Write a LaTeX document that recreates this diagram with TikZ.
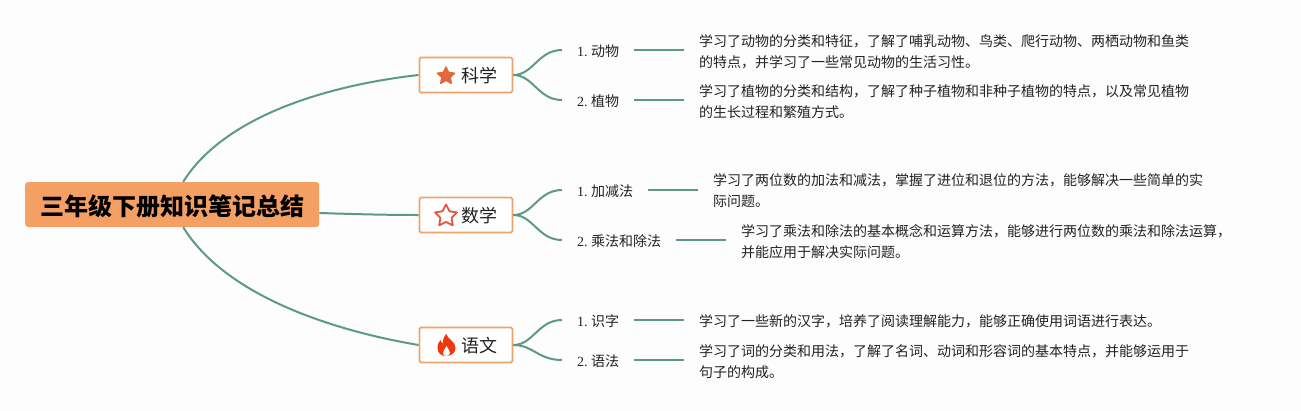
\documentclass[tikz,border=0pt]{standalone}
\usepackage{fontspec}
\usetikzlibrary{shapes.geometric,calc}
\setmainfont{Noto Sans CJK SC}
\newfontfamily\latf{Liberation Serif}
\definecolor{bgc}{HTML}{FDFDFD}
\definecolor{branch}{HTML}{5B9A85}
\definecolor{mainc}{HTML}{F4A064}
\definecolor{topicc}{HTML}{EFA36C}
\definecolor{starc}{HTML}{E0683A}
\definecolor{stard}{HTML}{E2553F}
\definecolor{flame}{HTML}{F2370F}
\definecolor{inkc}{HTML}{222222}
\tikzset{
  mainbox/.style={fill=mainc,rounded corners=3pt,minimum width=294pt,minimum height=45pt,inner sep=0pt,text height=24pt,text depth=1.4pt,font=\fontsize{24}{28}\selectfont\bfseries},
  topic/.style={draw=topicc,line width=1.8pt,fill=white,rounded corners=1.5pt,minimum width=93pt,minimum height=35pt,inner sep=0pt,text height=17pt,text depth=1.7pt,text=inkc,font=\fontsize{18}{22}\selectfont},
  sub/.style={inner xsep=15pt,inner ysep=2pt,text height=14pt,text depth=0.8pt,text=inkc,font=\fontsize{14}{18}\selectfont},
  desc/.style={inner xsep=15pt,inner ysep=0pt,align=left,text=inkc,font=\fontsize{14}{21}\selectfont},
  trunk/.style={draw=branch,line width=2pt},
  icon/.style={star,star points=5,inner sep=0pt,line join=round}
}
\newcommand{\nm}[1]{{\latf #1.\ }}
\begin{document}
\begin{tikzpicture}[x=1pt,y=-1pt]
\useasboundingbox[fill=bgc] (0,0) rectangle (1301,410);
\node[mainbox,anchor=west] (main) at (25,204.5) {三年级下册知识笔记总结};
\node[topic,anchor=west] (t1) at (418.5,75) {\hspace{28pt}科学};
\node[topic,anchor=west] (t2) at (418.5,215) {\hspace{28pt}数学};
\node[topic,anchor=west] (t3) at (418.5,345) {\hspace{28pt}语文};
% icons
\node[icon,fill=starc,draw=starc,line width=1.5pt,star point ratio=2.1,minimum size=18pt] (i1) at (446,76) {};
\node[icon,draw=stard,line width=1.8pt,fill=white,star point ratio=1.95,minimum size=23pt] (i2) at (446,216) {};
\fill[flame] (446.5,334) .. controls (447,339) and (455.5,341) .. (455.5,348)
  .. controls (455.5,353) and (451,356) .. (446,356)
  .. controls (441,356) and (437.5,353) .. (437.5,348)
  .. controls (437.5,344) and (439,342) .. (440.5,340)
  .. controls (441,342) and (442,343) .. (443,343.5)
  .. controls (442.5,340) and (444,336) .. (446.5,334) -- cycle;
\fill[white] (446.5,346) .. controls (447,349) and (450.5,350) .. (450,353)
  .. controls (449.5,355) and (448,356) .. (446.5,356)
  .. controls (444.5,356) and (443,355) .. (443,353)
  .. controls (443,350.5) and (445.5,349) .. (446.5,346) -- cycle;
% subtopics
\node[sub,anchor=west] (s11) at (562,50) {\nm{1}动物};
\node[sub,anchor=west] (s12) at (562,100) {\nm{2}植物};
\node[sub,anchor=west] (s21) at (562,190) {\nm{1}加减法};
\node[sub,anchor=west] (s22) at (562,240) {\nm{2}乘法和除法};
\node[sub,anchor=west] (s31) at (562,320) {\nm{1}识字};
\node[sub,anchor=west] (s32) at (562,360) {\nm{2}语法};
% descriptions
\node[desc,anchor=west] (d11) at (684,52) {学习了动物的分类和特征，了解了哺乳动物、鸟类、爬行动物、两栖动物和鱼类\\的特点，并学习了一些常见动物的生活习性。};
\node[desc,anchor=west] (d12) at (684,101.5) {学习了植物的分类和结构，了解了种子植物和非种子植物的特点，以及常见植物\\的生长过程和繁殖方式。};
\node[desc,anchor=west] (d21) at (698,191) {学习了两位数的加法和减法，掌握了进位和退位的方法，能够解决一些简单的实\\际问题。};
\node[desc,anchor=west] (d22) at (726,241.5) {学习了乘法和除法的基本概念和运算方法，能够进行两位数的乘法和除法运算，\\并能应用于解决实际问题。};
\node[desc,anchor=west] (d31) at (684,321) {学习了一些新的汉字，培养了阅读理解能力，能够正确使用词语进行表达。};
\node[desc,anchor=west] (d32) at (684,361.5) {学习了词的分类和用法，了解了名词、动词和形容词的基本特点，并能够运用于\\句子的构成。};
% trunks
\draw[trunk] ([xshift=11pt]main.north) .. controls (225,115) and (330,85) .. (t1.west);
\draw[trunk] ([yshift=-8.5pt]main.east) .. controls (350,214) and (385,215) .. (t2.west);
\draw[trunk] ([xshift=11pt]main.south) .. controls (225,295) and (330,330) .. (t3.west);
% branches
\foreach \t/\a/\b in {t1/s11/s12,t2/s21/s22,t3/s31/s32}{
  \draw[trunk] (\t.east) .. controls +(20,0) and ($(\a.west)+(-24,0)$) .. (\a.west);
  \draw[trunk] (\t.east) .. controls +(20,0) and ($(\b.west)+(-24,0)$) .. (\b.west);
}
% links
\foreach \a/\b in {s11/d11,s12/d12,s21/d21,s22/d22,s31/d31,s32/d32}{
  \draw[trunk] (\a.east) -- (\a.east -| \b.west);
}
\end{tikzpicture}
\end{document}
